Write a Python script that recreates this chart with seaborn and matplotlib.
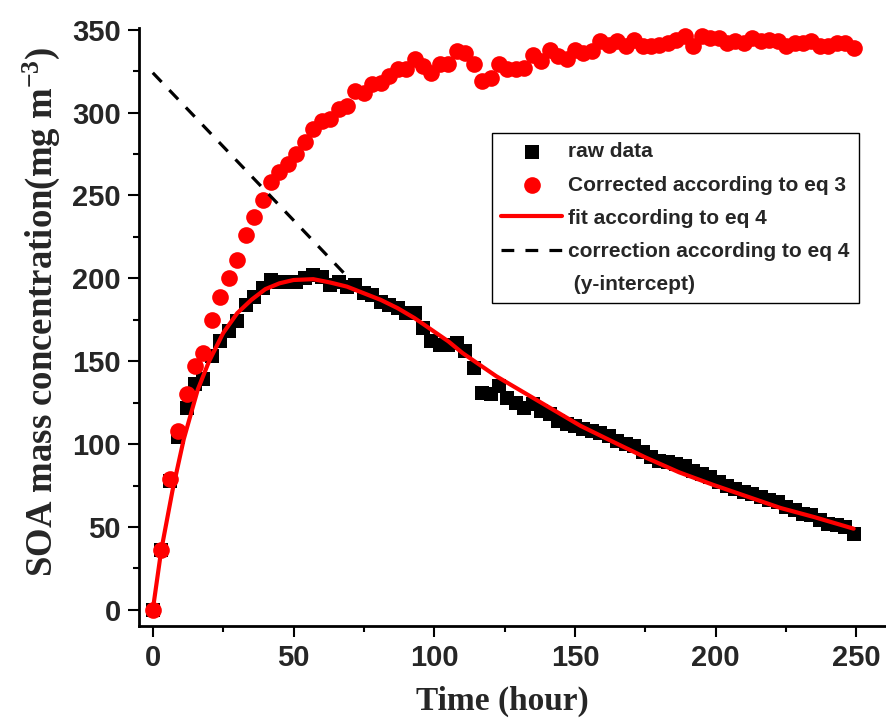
import matplotlib.pyplot as plt
import seaborn as sns
from matplotlib.lines import Line2D
from matplotlib.ticker import MultipleLocator

# sampling times (hour), one point every 3 h
time_h = [0, 3, 6, 9, 12, 15, 18, 21, 24, 27, 30, 33, 36, 39, 42, 45, 48, 51, 54, 57,
          60, 63, 66, 69, 72, 75, 78, 81, 84, 87, 90, 93, 96, 99, 102, 105, 108, 111, 114, 117,
          120, 123, 126, 129, 132, 135, 138, 141, 144, 147, 150, 153, 156, 159, 162, 165, 168, 171, 174, 177,
          180, 183, 186, 189, 192, 195, 198, 201, 204, 207, 210, 213, 216, 219, 222, 225, 228, 231, 234, 237,
          240, 243, 246, 249]

raw_data = [0, 36, 78, 104, 122, 136, 139, 153, 162, 168, 174, 184, 189, 194, 199, 198, 198, 198, 200, 202,
            201, 196, 198, 195, 196, 191, 190, 186, 184, 182, 179, 179, 170, 162, 160, 160, 161, 156, 146, 131,
            130, 135, 128, 125, 122, 124, 120, 118, 114, 112, 111, 109, 108, 107, 105, 102, 100, 99, 95, 92,
            90, 89, 88, 87, 84, 82, 80, 77, 75, 73, 71, 70, 68, 66, 65, 62, 60, 58, 57, 54,
            52, 51, 50, 46]

corrected = [0, 36, 79, 108, 130, 147, 155, 175, 189, 200, 211, 226, 237, 247, 258, 264, 269, 275, 282, 290,
             295, 296, 302, 304, 313, 312, 317, 318, 322, 326, 326, 332, 328, 324, 329, 329, 337, 336, 329, 319,
             321, 329, 326, 326, 327, 335, 331, 338, 334, 332, 338, 336, 337, 343, 341, 343, 340, 344, 340, 340,
             341, 342, 344, 346, 340, 346, 345, 345, 342, 343, 342, 345, 343, 344, 343, 340, 342, 342, 343, 340,
             340, 342, 342, 339]

# fitted curve (eq 4)
fit_t = [0, 3, 7, 11, 16, 20, 25, 30, 35, 40, 45, 50, 57, 63, 69, 75, 81, 87, 93, 99,
         105, 110, 116, 122, 128, 134, 140, 152, 164, 175, 187, 199, 211, 223, 235, 249]
fit_v = [0, 36, 72, 103, 133, 150, 167, 179, 187, 193.5, 197, 199, 199.5, 197.5, 195, 191, 187, 182, 176, 169,
         162, 155, 148, 141, 135, 129, 123, 111, 101, 92, 83, 75.5, 68.5, 61.5, 56, 49]

# y-intercept correction line
corr_t = [0, 68]
corr_v = [324, 203]

sns.set_style("ticks")
plt.rcParams['font.family'] = ['Liberation Sans', 'DejaVu Sans']
plt.rcParams['font.weight'] = 'bold'
plt.rcParams['mathtext.fontset'] = 'custom'
plt.rcParams['mathtext.rm'] = 'Liberation Serif:bold'
plt.rcParams['mathtext.it'] = 'Liberation Serif:italic:bold'
plt.rcParams['mathtext.bf'] = 'Liberation Serif:bold'

fig = plt.figure(figsize=(8.86, 7.2), dpi=100)
ax = fig.add_axes([139 / 886, 94 / 720, 747 / 886, 598 / 720])

sns.scatterplot(x=time_h, y=raw_data, marker='s', s=9.5 ** 2, color='black', linewidth=0,
                label='raw data', ax=ax, zorder=2)
sns.scatterplot(x=time_h, y=corrected, marker='o', s=12 ** 2, color='#ff0000', linewidth=0,
                label='Corrected according to eq 3', ax=ax, zorder=3)
sns.lineplot(x=fit_t, y=fit_v, color='#ff0000', linewidth=3, estimator=None, sort=False,
             label='fit according to eq 4', ax=ax, zorder=4)
sns.lineplot(x=corr_t, y=corr_v, color='black', linewidth=2.3, linestyle=(0, (4, 3.5)),
             estimator=None, sort=False, label='correction according to eq 4', ax=ax, zorder=5)

ax.set_xlim(-4.9, 260.5)
ax.set_ylim(-9.7, 351)
ax.xaxis.set_major_locator(MultipleLocator(50))
ax.xaxis.set_minor_locator(MultipleLocator(25))
ax.yaxis.set_major_locator(MultipleLocator(50))
ax.yaxis.set_minor_locator(MultipleLocator(25))
ax.tick_params(which='major', direction='out', length=8, width=1.5, labelsize=21, pad=5, color='black')
ax.tick_params(which='minor', direction='out', length=4, width=1.5, color='black')

for side in ['top', 'right']:
    ax.spines[side].set_visible(False)
for side in ['left', 'bottom']:
    ax.spines[side].set_linewidth(2)
    ax.spines[side].set_color('black')

ax.set_xlabel('Time (hour)', fontfamily='Liberation Serif', fontweight='bold', fontsize=24)
ax.set_ylabel(r'SOA mass concentration(mg m$^{-3}$)', fontfamily='Liberation Serif',
              fontweight='bold', fontsize=26.5)
ax.xaxis.set_label_coords(0.486, -0.1)
ax.yaxis.set_label_coords(-0.103, 0.526)

handles, labels = ax.get_legend_handles_labels()
handles.append(Line2D([], [], linestyle='none'))
labels.append(' (y-intercept)')
leg = ax.legend(handles, labels, loc='upper left', bbox_to_anchor=(0.4726, 0.8244), borderaxespad=0,
                frameon=True, fancybox=False, edgecolor='black', framealpha=1,
                prop={'family': 'Liberation Sans', 'weight': 'bold', 'size': 15},
                handlelength=2.9, handletextpad=0.3, labelspacing=0.68, borderpad=0.45)
leg.get_frame().set_linewidth(1)

fig.savefig('out.png', dpi=100)
plt.close(fig)
